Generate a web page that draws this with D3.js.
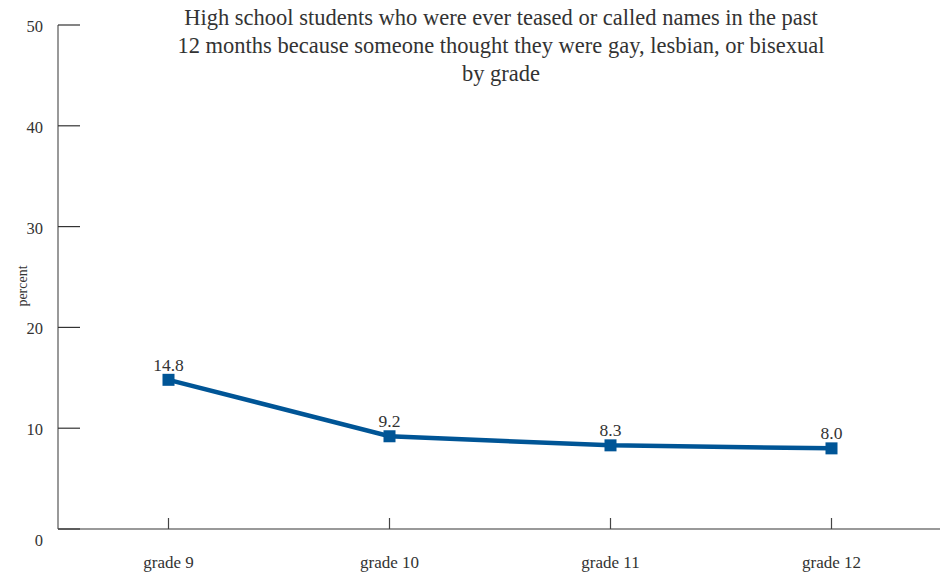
<!DOCTYPE html>
<html><head><meta charset="utf-8">
<script src="https://cdn.jsdelivr.net/npm/d3@7"></script>
<style>body{margin:0;background:#fff}svg{display:block}text{font-family:"Liberation Serif","DejaVu Serif",serif;fill:#333}</style>
</head><body><svg id="c" width="944" height="573"></svg>
<script>
const categories = ["grade 9", "grade 10", "grade 11", "grade 12"];
const values = [14.8, 9.2, 8.3, 8.0];
const yTicks = [0, 10, 20, 30, 40, 50];
const titleLines = ["High school students who were ever teased or called names in the past",
  "12 months because someone thought they were gay, lesbian, or bisexual", "by grade"];
const yLabel = "percent";

const svg = d3.select("#c");
const x = d3.scaleBand().domain(categories).range([58, 942]);
const y = d3.scaleLinear().domain([0, 50]).range([529, 25]);
const cx = d => x(d) + x.bandwidth() / 2;

// axes
svg.append("line").attr("x1", 58).attr("x2", 58).attr("y1", y(50)).attr("y2", y(0)).attr("stroke", "#555").attr("stroke-width", 1.2);
svg.append("line").attr("x1", 58).attr("x2", 940).attr("y1", y(0)).attr("y2", y(0)).attr("stroke", "#777").attr("stroke-width", 1.5);
yTicks.forEach(t => {
  svg.append("line").attr("x1", 58).attr("x2", 80).attr("y1", y(t)).attr("y2", y(t)).attr("stroke", "#333").attr("stroke-width", 1.2);
  svg.append("text").attr("x", 43).attr("y", y(t) + (t === 0 ? 17 : 7)).attr("text-anchor", "end").attr("font-size", 16.5).text(t);
});
categories.forEach(c => {
  svg.append("line").attr("x1", cx(c)).attr("x2", cx(c)).attr("y1", y(0)).attr("y2", y(0) - 11).attr("stroke", "#444").attr("stroke-width", 1.2);
  svg.append("text").attr("x", cx(c)).attr("y", 568).attr("text-anchor", "middle").attr("font-size", 17).text(c);
});
svg.append("text").attr("transform", "translate(27,286) rotate(-90)").attr("text-anchor", "middle").attr("font-size", 14).text(yLabel);

// title
titleLines.forEach((l, i) => svg.append("text").attr("x", 501).attr("y", 25 + i * 28).attr("text-anchor", "middle").attr("font-size", 22.5).text(l));

// line
const data = categories.map((c, i) => ({c, v: values[i]}));
svg.append("path").datum(data).attr("fill", "none").attr("stroke", "#005596").attr("stroke-width", 4.5)
  .attr("d", d3.line().x(d => cx(d.c)).y(d => y(d.v)));
svg.selectAll("rect.m").data(data).join("rect").attr("class", "m")
  .attr("x", d => cx(d.c) - 6).attr("y", d => y(d.v) - 6).attr("width", 12).attr("height", 12).attr("fill", "#005596");
svg.selectAll("text.v").data(data).join("text").attr("class", "v")
  .attr("x", d => cx(d.c)).attr("y", d => y(d.v) - 9).attr("text-anchor", "middle").attr("font-size", 17.5)
  .text(d => d.v.toFixed(1));
</script></body></html>
